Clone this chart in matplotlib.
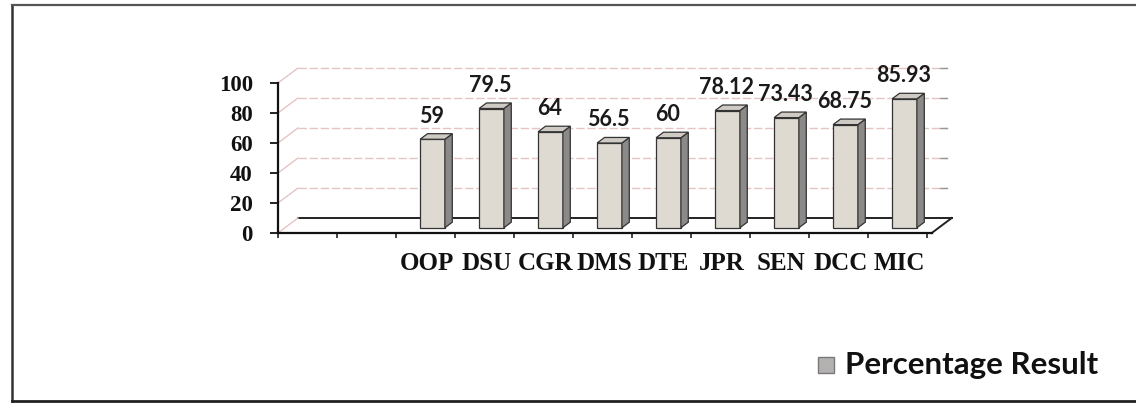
import matplotlib
matplotlib.use("Agg")
import matplotlib.pyplot as plt
from matplotlib.patches import Polygon, Rectangle
from matplotlib.lines import Line2D

# ---- data ----
subjects = ["OOP", "DSU", "CGR", "DMS", "DTE", "JPR", "SEN", "DCC", "MIC"]
values = [59, 79.5, 64, 56.5, 60, 78.12, 73.43, 68.75, 85.93]
n_empty = 2                      # empty category slots before the first subject
y_ticks = [0, 20, 40, 60, 80, 100]
legend_label = "Percentage Result"

W, H = 1136, 403
fig = plt.figure(figsize=(W / 100, H / 100), dpi=100)
fig.patch.set_facecolor("white")

n_slots = n_empty + len(subjects)
ax = fig.add_axes([278 / W, (H - 233) / H, 649 / W, 150 / H])
ax.set_xlim(0, n_slots)
ax.set_ylim(0, 100)
ax.patch.set_alpha(0)
for s in ["top", "right"]:
    ax.spines[s].set_visible(False)
ax.spines["left"].set_linewidth(1.6)
ax.spines["bottom"].set_linewidth(1.6)
ax.spines["left"].set_color("#111111")
ax.spines["bottom"].set_color("#111111")
ax.spines["bottom"].set_bounds(0, n_slots + 0.08)

# depth (pseudo-3D) offsets converted to data units via axis scales
fig.canvas.draw()
p0 = ax.transData.transform((0, 0))
p1 = ax.transData.transform((1, 1))
ppx, ppy = p1[0] - p0[0], p1[1] - p0[1]
ddx = 20 / ppx
ddy = 15 / ppy

grid_col = "#e6c4c4"
# back wall gridlines + left wall diagonals
for yv in y_ticks:
    col = "#222222" if yv == 0 else grid_col
    lw = 1.4 if yv == 0 else 1.0
    ax.add_line(Line2D([ddx, n_slots + ddx + (0.08 if yv == 0 else 0)],
                       [yv + ddy, yv + ddy], color=col, lw=lw,
                       ls="-" if yv == 0 else (0, (6, 2)),
                       clip_on=False, zorder=1))
    ax.add_line(Line2D([0, ddx], [yv, yv + ddy], color=grid_col, lw=1.0,
                       clip_on=False, zorder=1))
    if yv > 0:
        ax.add_line(Line2D([n_slots + ddx - 0.12, n_slots + ddx + 0.0],
                           [yv + ddy, yv + ddy], color="#999999", lw=1.0,
                           clip_on=False, zorder=1))
# right floor edge
ax.add_line(Line2D([n_slots + 0.08, n_slots + 0.08 + ddx], [0, ddy],
                   color="#222222", lw=1.4, clip_on=False, zorder=1))

# bars
w = 0.42
d0, d1 = 0.35, 0.72
front_col = "#dedad2"
side_col = "#8c8a88"
top_col = "#cfcbc4"
edge_col = "#333333"
xc = [n_empty + i + 0.5 for i in range(len(subjects))]
bx = [x + d0 * ddx for x in xc]
ax.bar(bx, values, width=w, bottom=d0 * ddy, color=front_col,
       edgecolor=edge_col, linewidth=0.9, zorder=3)
for x, v in zip(bx, values):
    xl, xr = x - w / 2, x + w / 2
    yb, yt = d0 * ddy, v + d0 * ddy
    ex, ey = (d1 - d0) * ddx, (d1 - d0) * ddy
    side = Polygon([(xr, yb), (xr, yt), (xr + ex, yt + ey), (xr + ex, yb + ey)],
                   closed=True, facecolor=side_col, edgecolor=edge_col,
                   lw=0.9, zorder=3, clip_on=False)
    top = Polygon([(xl, yt), (xr, yt), (xr + ex, yt + ey), (xl + ex, yt + ey)],
                  closed=True, facecolor=top_col, edgecolor=edge_col,
                  lw=0.9, zorder=3, clip_on=False)
    ax.add_patch(side)
    ax.add_patch(top)
    ax.annotate(f"{v:g}", xy=(x - 0.02, yt), xytext=(0, 12),
                textcoords="offset points", ha="center", va="baseline",
                fontsize=15.5, fontweight="bold", family="Lato",
                color="#1a1a1a", annotation_clip=False)

# ticks
ax.set_yticks(y_ticks)
ax.set_yticklabels([str(t) for t in y_ticks], fontsize=16.5, fontweight="bold",
                   family="Liberation Serif")
ax.tick_params(axis="y", length=6, width=1.3, pad=12, colors="#111111")
ax.set_xticks([x + 0.03 for x in xc])
ax.set_xticklabels(subjects, fontsize=18, fontweight="bold",
                   family="Liberation Serif")
ax.tick_params(axis="x", which="major", length=0, pad=14, colors="#111111")
ax.set_xticks(list(range(0, n_slots + 1)), minor=True)
ax.tick_params(axis="x", which="minor", length=3.8, width=1.2,
               direction="out", colors="#222222")

# outer border
fig.add_artist(Line2D([12 / W, 12 / W], [1 - 5 / H, 1 - 401 / H],
                      transform=fig.transFigure, color="#333333", lw=1.8))
fig.add_artist(Line2D([12 / W, 1.0], [1 - 5 / H, 1 - 5 / H],
                      transform=fig.transFigure, color="#555555", lw=1.6))
fig.add_artist(Line2D([12 / W, 1.0], [1 - 401 / H, 1 - 401 / H],
                      transform=fig.transFigure, color="#222222", lw=2.0))

# legend
fig.add_artist(Rectangle((818 / W, (H - 373) / H), 16 / W, 16 / H,
                         transform=fig.transFigure, facecolor="#b4b2b0",
                         edgecolor="#7a7878", lw=1.0))
fig.text(845 / W, 1 - 365 / H, legend_label, va="center", ha="left",
         fontsize=22.5, fontweight="bold", family="Lato", color="#111111")

fig.savefig("out.png", dpi=100, facecolor="white")
